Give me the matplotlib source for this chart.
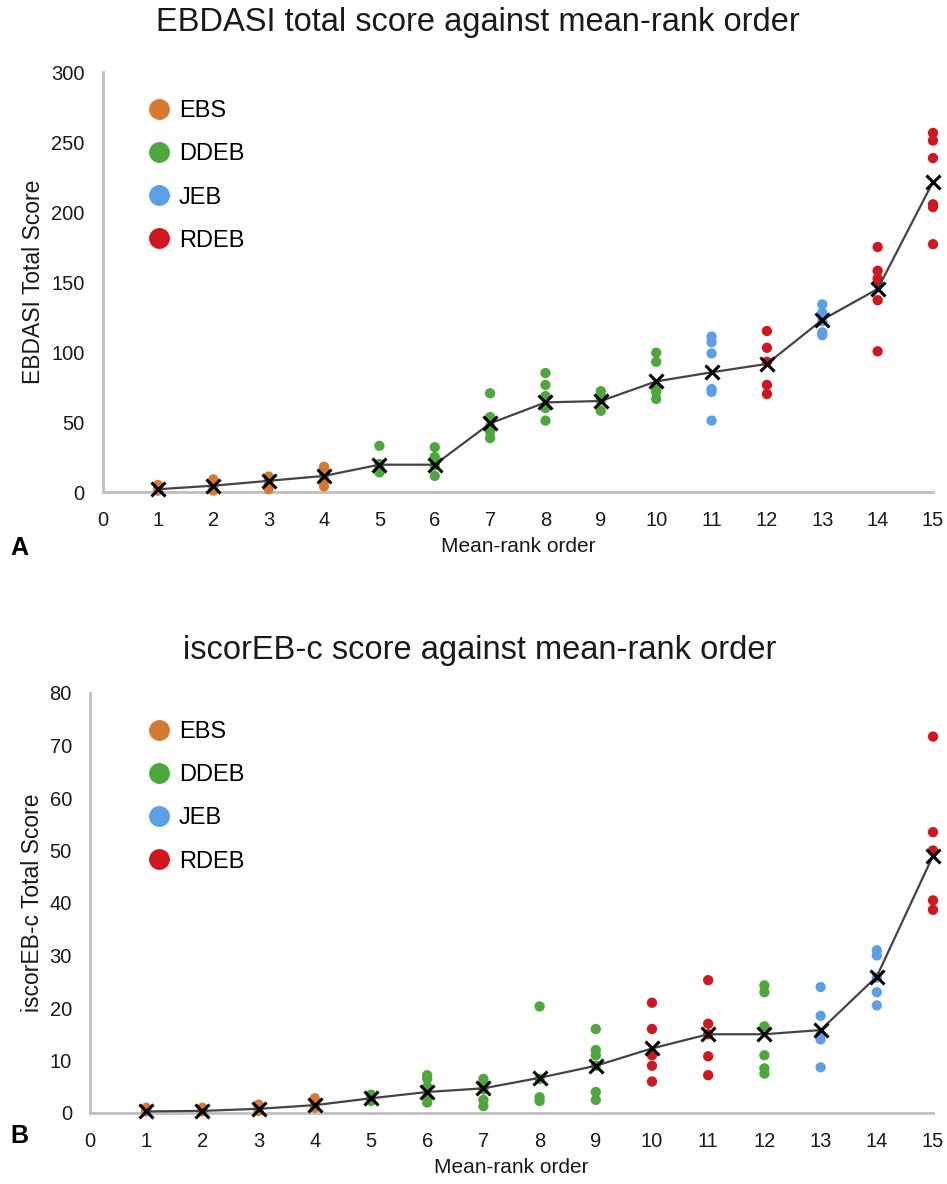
import matplotlib
matplotlib.use("Agg")
import matplotlib.pyplot as plt
from matplotlib.lines import Line2D

plt.rcParams["font.family"] = ["Liberation Sans", "DejaVu Sans"]

groups = ["EBS", "DDEB", "JEB", "RDEB"]
group_colors = {"EBS": "#D5792F", "DDEB": "#4DA83C", "JEB": "#5B9FE8", "RDEB": "#D0161E"}
ranks = list(range(1, 16))

# EB subtype of each mean-rank position
ebdasi_group = ["EBS", "EBS", "EBS", "EBS", "DDEB", "DDEB", "DDEB", "DDEB", "DDEB",
                "DDEB", "JEB", "RDEB", "JEB", "RDEB", "RDEB"]
ebdasi_points = [
    [1, 3, 5],
    [1, 4, 7, 9],
    [2, 5, 8, 11],
    [4, 8, 12, 15, 18],
    [14, 17, 20, 33],
    [11.5, 19, 25, 32],
    [38.5, 43, 47, 53.5, 70.5],
    [51, 60, 68.5, 76.5, 85],
    [58, 65.5, 68.5, 72],
    [66.5, 71.5, 73.5, 93, 99.5],
    [51, 71.5, 73.5, 99, 107, 111],
    [70, 76.5, 93, 103, 115],
    [112, 114, 122, 128, 134],
    [100.5, 137, 149.5, 152.5, 158, 175],
    [177, 203.5, 205.5, 238.5, 251, 256.5],
]
ebdasi_mean = [2, 4.5, 8, 11.5, 19.5, 19.5, 49, 64, 65, 79, 85.5, 91.5, 123, 145, 221.5]

iscor_group = ["EBS", "EBS", "EBS", "EBS", "DDEB", "DDEB", "DDEB", "DDEB", "DDEB",
               "RDEB", "RDEB", "DDEB", "JEB", "JEB", "RDEB"]
iscor_points = [
    [0.3, 0.6, 1],
    [0.3, 0.6, 1],
    [0.4, 1, 1.6],
    [1, 2, 2.8],
    [2.3, 3, 3.5],
    [2, 3, 5, 6.5, 7.2],
    [1.3, 2.5, 4.5, 5.5, 6.5],
    [2.3, 3, 6.5, 20.3],
    [2.5, 4, 9, 11, 12, 16],
    [6, 9, 11, 16, 21],
    [7.2, 10.8, 15, 17, 25.3],
    [7.5, 8.5, 11, 16.5, 23, 24.3],
    [8.7, 14, 15, 18.5, 24],
    [20.5, 23, 25.8, 30, 31],
    [38.7, 40.5, 50, 53.5, 71.7],
]
iscor_mean = [0.3, 0.4, 0.8, 1.5, 2.8, 4, 4.7, 6.7, 9, 12.3, 15, 15, 15.8, 26, 49]

W, H = 947, 1184
fig = plt.figure(figsize=(W / 100, H / 100), dpi=100)
fig.patch.set_facecolor("white")
TXT = "#1A1A1A"


def px_axes(left, top, right, bottom):
    return fig.add_axes([left / W, 1 - bottom / H, (right - left) / W, (bottom - top) / H])


def draw_panel(ax, points, groups_of, means, ymax, ystep, ylabel, legend_px):
    for r, vals, g in zip(ranks, points, groups_of):
        ax.scatter([r] * len(vals), vals, s=55, color=group_colors[g],
                   edgecolors="none", zorder=3, clip_on=False)
    ax.plot(ranks, means, color="#444444", lw=1.6, zorder=4, clip_on=False)
    ax.plot(ranks, means, ls="none", marker="x", ms=10, mew=2.2, color="black",
            zorder=5, clip_on=False)
    ax.set_xlim(0, 15)
    ax.set_ylim(0, ymax)
    ax.set_xticks(range(0, 16))
    ax.set_yticks(range(0, ymax + 1, ystep))
    ax.tick_params(axis="y", length=0, labelsize=14.5, colors=TXT, pad=13)
    ax.tick_params(axis="x", length=0, labelsize=14.5, colors=TXT, pad=14)
    for s in ("top", "right"):
        ax.spines[s].set_visible(False)
    for s in ("left", "bottom"):
        ax.spines[s].set_color("#BFBFBF")
        ax.spines[s].set_linewidth(2)
    ax.set_xlabel("Mean-rank order", fontsize=15, color=TXT, labelpad=5)
    ax.set_ylabel(ylabel, fontsize=16.5, color=TXT, labelpad=4)
    handles = [Line2D([], [], ls="none", marker="o", ms=14, color=group_colors[g],
                      label=g) for g in groups]
    lx, ly = legend_px
    ax.legend(handles=handles, loc="upper left",
              bbox_to_anchor=(lx / W, 1 - ly / H), bbox_transform=fig.transFigure,
              frameon=False, fontsize=17, handletextpad=0.35, labelspacing=0.9,
              borderaxespad=0, borderpad=0, handlelength=1.0)


ax1 = px_axes(102.6, 72, 933, 492)
draw_panel(ax1, ebdasi_points, ebdasi_group, ebdasi_mean, 300, 50,
           "EBDASI Total Score", (147, 100))
fig.text(478 / W, 1 - 23 / H, "EBDASI total score against mean-rank order",
         fontsize=23.5, color=TXT, ha="center", va="center")

ax2 = px_axes(90, 693, 933, 1113)
draw_panel(ax2, iscor_points, iscor_group, iscor_mean, 80, 10,
           "iscorEB-c Total Score", (147, 721))
fig.text(480 / W, 1 - 650 / H, "iscorEB-c score against mean-rank order",
         fontsize=23.5, color=TXT, ha="center", va="center")

fig.text(10 / W, 1 - 548 / H, "A", fontsize=18, fontweight="bold", va="center")
fig.text(10 / W, 1 - 1136 / H, "B", fontsize=18, fontweight="bold", va="center")

fig.savefig("out.png", dpi=100, facecolor="white")
